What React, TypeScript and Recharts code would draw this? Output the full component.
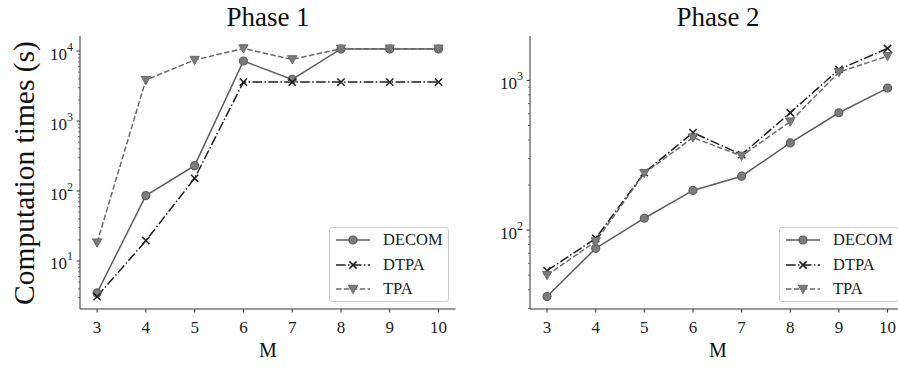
import React from 'react';
import { LineChart, Line, XAxis, YAxis, Legend } from 'recharts';

// ---------- data ----------
const mValues = [3, 4, 5, 6, 7, 8, 9, 10];

const phase1Decom = [3.5, 86, 230, 7200, 3940, 10700, 10700, 10700];
const phase1Dtpa = [3.1, 19.5, 152, 3600, 3600, 3600, 3600, 3600];
const phase1Tpa = [18.3, 3850, 7440, 10900, 7600, 10800, 10800, 10800];

const phase2Decom = [36, 75.5, 120, 184, 229, 382, 608, 889];
const phase2Dtpa = [53.5, 88, 242, 448, 319, 608, 1184, 1634];
const phase2Tpa = [50, 84, 240, 415, 313, 530, 1136, 1452];

const seriesNames = ['DECOM', 'DTPA', 'TPA'];
const xTicks = [3, 4, 5, 6, 7, 8, 9, 10];
const phase1Decades = [10, 100, 1000, 10000];
const phase2Decades = [100, 1000];
const minorMultipliers = [2, 3, 4, 5, 6, 7, 8, 9];
const phase1Domain = [2.06, 16400];
const phase2Domain = [29.7, 1980];
const xDomain = [2.65, 10.35];
const titles = ['Phase 1', 'Phase 2'];
const yLabel = 'Computation times (s)';
const xLabel = 'M';

// ---------- styles ----------
const FONT = 'Liberation Serif, DejaVu Serif, serif';
const AXIS = '#333333';
const C_DECOM = '#5e5e5e';
const C_DECOM_FILL = '#7c7c7c';
const C_DTPA = '#1e1e1e';
const C_TPA = '#6a6a6a';
const C_TPA_FILL = '#7c7c7c';
const DASH_DOT = '9.6 2.4 1.5 2.4';
const DASHED = '5.5 2.4';

const buildTable = (a: number[], b: number[], c: number[]) =>
  mValues.map((m, i) => ({ M: m, decom: a[i], dtpa: b[i], tpa: c[i] }));

const phase1Data = buildTable(phase1Decom, phase1Dtpa, phase1Tpa);
const phase2Data = buildTable(phase2Decom, phase2Dtpa, phase2Tpa);

const allTicks = (decades: number[], domain: number[]) => {
  const out: number[] = [];
  const lo = Math.floor(Math.log10(domain[0]));
  const hi = Math.ceil(Math.log10(domain[1]));
  for (let e = lo; e <= hi; e++) {
    const base = Math.pow(10, e);
    minorMultipliers.forEach((k) => {
      const v = k * base;
      if (v >= domain[0] && v <= domain[1]) out.push(v);
    });
  }
  decades.forEach((d) => out.push(d));
  return out.sort((p, q) => p - q);
};

// ---------- marks ----------
const CircleDot = (p: any) => {
  if (p.cx == null || p.cy == null) return <g key={p.index} />;
  return (
    <circle key={'c' + p.index} cx={p.cx} cy={p.cy} r={4} fill={C_DECOM_FILL} stroke={C_DECOM} strokeWidth={1.2} />
  );
};
const CrossDot = (p: any) => {
  if (p.cx == null || p.cy == null) return <g key={p.index} />;
  const s = 3.6;
  return (
    <g key={'x' + p.index}>
      <line x1={p.cx - s} y1={p.cy - s} x2={p.cx + s} y2={p.cy + s} stroke={C_DTPA} strokeWidth={1.5} />
      <line x1={p.cx - s} y1={p.cy + s} x2={p.cx + s} y2={p.cy - s} stroke={C_DTPA} strokeWidth={1.5} />
    </g>
  );
};
const TriDot = (p: any) => {
  if (p.cx == null || p.cy == null) return <g key={p.index} />;
  const s = 4.6;
  return (
    <polygon
      key={'t' + p.index}
      points={`${p.cx - s},${p.cy - s * 0.8} ${p.cx + s},${p.cy - s * 0.8} ${p.cx},${p.cy + s}`}
      fill={C_TPA_FILL}
      stroke={C_TPA}
      strokeWidth={1}
    />
  );
};

// ---------- ticks ----------
const LogTick = (props: any) => {
  const { x, y, payload } = props;
  const v = payload.value;
  const exp = Math.log10(v);
  const major = Math.abs(exp - Math.round(exp)) < 1e-6;
  return (
    <g>
      <line x1={x} x2={x - (major ? 3.5 : 2)} y1={y} y2={y} stroke={AXIS} strokeWidth={major ? 1 : 0.7} />
      {major && (
        <text
          x={x - 7}
          y={y + 8.5}
          textAnchor="end"
          fill="#222"
          style={{ fontFamily: FONT, fontSize: 17 }}
        >
          10
          <tspan dy={-9} style={{ fontSize: 12 }}>
            {Math.round(exp)}
          </tspan>
        </text>
      )}
    </g>
  );
};

const XTick = (props: any) => {
  const { x, y, payload } = props;
  return (
    <g>
      <line x1={x} x2={x} y1={y} y2={y + 3.5} stroke={AXIS} strokeWidth={1} />
      <text x={x} y={y + 24} textAnchor="middle" fill="#222" style={{ fontFamily: FONT, fontSize: 17 }}>
        {payload.value}
      </text>
    </g>
  );
};

// ---------- legend ----------
const LegendHandle = ({ kind }: { kind: number }) => {
  const w = 34;
  const cy = 6;
  const cx = w / 2;
  if (kind === 0)
    return (
      <svg width={w} height={12} style={{ display: 'block' }}>
        <line x1={0} x2={w} y1={cy} y2={cy} stroke={C_DECOM} strokeWidth={1.5} />
        <circle cx={cx} cy={cy} r={4} fill={C_DECOM_FILL} stroke={C_DECOM} strokeWidth={1.2} />
      </svg>
    );
  if (kind === 1)
    return (
      <svg width={w} height={12} style={{ display: 'block' }}>
        <line x1={0} x2={w} y1={cy} y2={cy} stroke={C_DTPA} strokeWidth={1.5} strokeDasharray={DASH_DOT} />
        <line x1={cx - 3.6} y1={cy - 3.6} x2={cx + 3.6} y2={cy + 3.6} stroke={C_DTPA} strokeWidth={1.5} />
        <line x1={cx - 3.6} y1={cy + 3.6} x2={cx + 3.6} y2={cy - 3.6} stroke={C_DTPA} strokeWidth={1.5} />
      </svg>
    );
  const s = 4.6;
  return (
    <svg width={w} height={12} style={{ display: 'block' }}>
      <line x1={0} x2={w} y1={cy} y2={cy} stroke={C_TPA} strokeWidth={1.5} strokeDasharray={DASHED} />
      <polygon
        points={`${cx - s},${cy - s * 0.8} ${cx + s},${cy - s * 0.8} ${cx},${cy + s}`}
        fill={C_TPA_FILL}
        stroke={C_TPA}
        strokeWidth={1}
      />
    </svg>
  );
};

const LegendBox = () => (
  <div
    style={{
      width: 120,
      height: 75,
      boxSizing: 'border-box',
      border: '1px solid #cccccc',
      borderRadius: 3,
      background: 'rgba(255,255,255,0.85)',
      fontFamily: FONT,
      fontSize: 16.5,
      color: '#222',
      paddingTop: 0,
    }}
  >
    {seriesNames.map((n, i) => (
      <div key={n} style={{ display: 'flex', alignItems: 'center', height: 24.5, paddingLeft: 6 }}>
        <LegendHandle kind={i} />
        <span style={{ marginLeft: 13, lineHeight: '20px' }}>{n}</span>
      </div>
    ))}
  </div>
);

// ---------- chart ----------
const Panel = ({
  data,
  domain,
  decades,
  yWidth,
  legendLeft,
}: {
  data: any[];
  domain: number[];
  decades: number[];
  yWidth: number;
  legendLeft: number;
}) => (
  <LineChart width={457} height={367} data={data} margin={{ top: 36, right: 1.4, bottom: 0, left: 0 }}>
    <XAxis
      dataKey="M"
      type="number"
      domain={xDomain}
      ticks={xTicks}
      allowDataOverflow
      interval={0}
      height={58}
      tickSize={0}
      tickMargin={0}
      tickLine={false}
      tick={<XTick />}
      axisLine={{ stroke: AXIS, strokeWidth: 1 }}
    />
    <XAxis
      xAxisId="top"
      orientation="top"
      dataKey="M"
      type="number"
      domain={xDomain}
      allowDataOverflow
      height={0}
      tick={false}
      tickLine={false}
      axisLine={{ stroke: AXIS, strokeWidth: 1 }}
    />
    <YAxis
      type="number"
      scale="log"
      domain={domain}
      allowDataOverflow
      ticks={allTicks(decades, domain)}
      interval={0}
      width={yWidth}
      tickSize={0}
      tickMargin={0}
      tickLine={false}
      tick={<LogTick />}
      axisLine={{ stroke: AXIS, strokeWidth: 1 }}
    />
    <YAxis
      yAxisId="right"
      orientation="right"
      width={0}
      tick={false}
      tickLine={false}
      axisLine={{ stroke: AXIS, strokeWidth: 1 }}
    />
    <Line
      dataKey="decom"
      name="DECOM"
      stroke={C_DECOM}
      strokeWidth={1.5}
      dot={CircleDot}
      activeDot={false}
      isAnimationActive={false}
    />
    <Line
      dataKey="dtpa"
      name="DTPA"
      stroke={C_DTPA}
      strokeWidth={1.5}
      strokeDasharray={DASH_DOT}
      dot={CrossDot}
      activeDot={false}
      isAnimationActive={false}
    />
    <Line
      dataKey="tpa"
      name="TPA"
      stroke={C_TPA}
      strokeWidth={1.5}
      strokeDasharray={DASHED}
      dot={TriDot}
      activeDot={false}
      isAnimationActive={false}
    />
    <Legend
      layout="horizontal"
      verticalAlign="middle"
      align="center"
      content={() => <LegendBox />}
      wrapperStyle={{ position: 'absolute', left: legendLeft, top: 227, width: 120, height: 75 }}
    />
  </LineChart>
);

const textDiv = (
  text: string,
  cx: number,
  top: number,
  size: number,
  width: number,
  lh: number,
  extra: React.CSSProperties = {}
) => (
  <div
    style={{
      position: 'absolute',
      left: cx - width / 2,
      top,
      width,
      height: lh,
      lineHeight: lh + 'px',
      textAlign: 'center',
      fontSize: size,
      fontFamily: FONT,
      color: '#111',
      whiteSpace: 'nowrap',
      ...extra,
    }}
  >
    {text}
  </div>
);

export default function App() {
  return (
    <div
      style={{
        position: 'absolute',
        left: 0,
        top: 0,
        width: 898,
        height: 367,
        overflow: 'hidden',
        background: '#fff',
      }}
    >
      <div style={{ position: 'absolute', left: 0, top: 0 }}>
        <Panel data={phase1Data} domain={phase1Domain} decades={phase1Decades} yWidth={80} legendLeft={329} />
      </div>
      <div style={{ position: 'absolute', left: 449, top: 0 }}>
        <Panel data={phase2Data} domain={phase2Domain} decades={phase2Decades} yWidth={81} legendLeft={330} />
      </div>
      {textDiv(titles[0], 268, 2, 27, 200, 30)}
      {textDiv(titles[1], 718, 2, 27, 200, 30)}
      {textDiv(xLabel, 268, 339, 20, 60, 22)}
      {textDiv(xLabel, 718, 339, 20, 60, 22)}
      {textDiv(yLabel, 24, 173 - 18, 29.5, 320, 36, { transform: 'rotate(-90deg)' })}
    </div>
  );
}
